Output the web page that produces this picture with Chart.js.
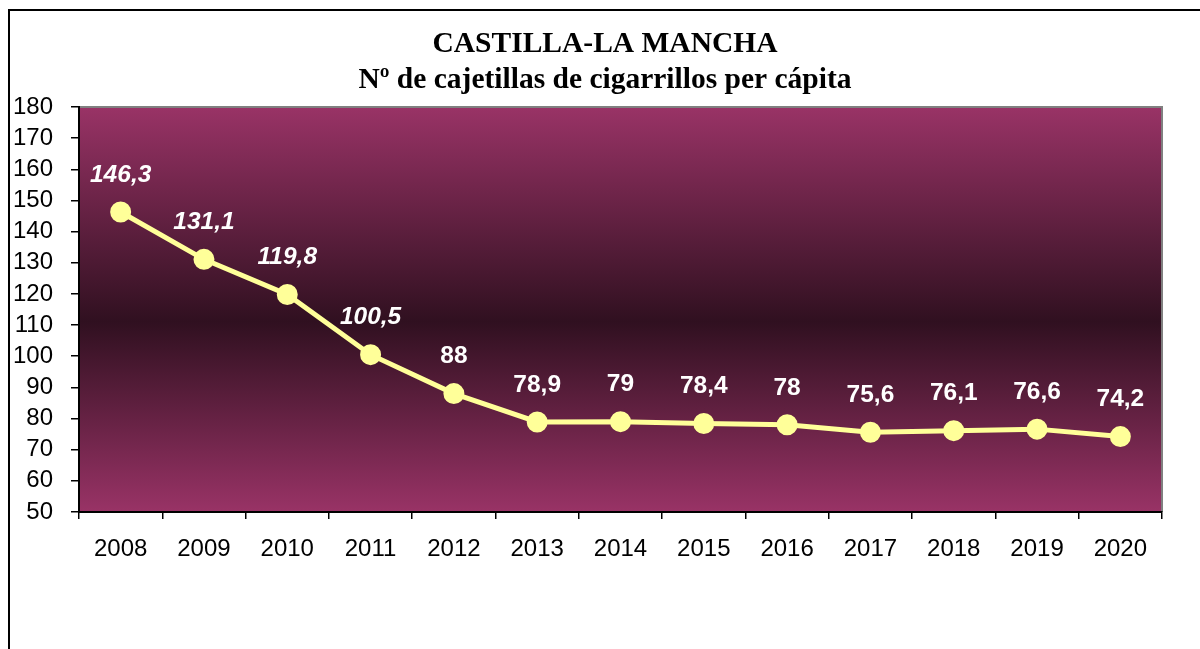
<!DOCTYPE html>
<html>
<head>
<meta charset="utf-8">
<script src="https://cdn.jsdelivr.net/npm/chart.js@4/dist/chart.umd.min.js"></script>
<style>
  html, body { margin: 0; padding: 0; background: #fff; }
  #wrap { width: 1200px; height: 649px; }
</style>
</head>
<body>
<div id="wrap"><canvas id="chart" width="1200" height="649"></canvas></div>
<script>
// Datos: cajetillas de cigarrillos per cápita, Castilla-La Mancha
const YEARS = ['2008', '2009', '2010', '2011', '2012', '2013', '2014', '2015', '2016', '2017', '2018', '2019', '2020'];
const CAJETILLAS = [146.3, 131.1, 119.8, 100.5, 88, 78.9, 79, 78.4, 78, 75.6, 76.1, 76.6, 74.2];
const Y_TICKS = [50, 60, 70, 80, 90, 100, 110, 120, 130, 140, 150, 160, 170, 180];
const TITLE_LINES = ['CASTILLA-LA MANCHA', 'Nº de cajetillas de cigarrillos per cápita'];

// Marco exterior, fondo degradado del área y título
const backdrop = {
    id: 'backdrop',
    beforeDraw(chart) {
        const { ctx, chartArea: a } = chart;
        ctx.save();
        ctx.strokeStyle = '#000';
        ctx.lineWidth = 2;
        ctx.strokeRect(9, 10, 1210, 700);

        const grad = ctx.createLinearGradient(0, a.top, 0, a.bottom);
        grad.addColorStop(0, '#993366');
        grad.addColorStop(0.53, '#301020');
        grad.addColorStop(1, '#993366');
        ctx.fillStyle = grad;
        ctx.fillRect(a.left, a.top, a.right - a.left, a.bottom - a.top);

        ctx.strokeStyle = '#808080';
        ctx.lineWidth = 2;
        ctx.beginPath();
        ctx.moveTo(a.left, a.top);
        ctx.lineTo(a.right, a.top);
        ctx.lineTo(a.right, a.bottom);
        ctx.stroke();

        ctx.fillStyle = '#000';
        ctx.font = 'bold 29.5px "Liberation Serif", "Times New Roman", serif';
        ctx.textAlign = 'center';
        ctx.textBaseline = 'middle';
        TITLE_LINES.forEach((t, i) => ctx.fillText(t, 605, 44 + i * 36));
        ctx.restore();
    }
};

// Etiquetas de valor encima de cada punto (las cuatro primeras en cursiva)
const valueLabels = {
    id: 'valueLabels',
    afterDatasetsDraw(chart) {
        const { ctx } = chart;
        const meta = chart.getDatasetMeta(0);
        ctx.save();
        ctx.fillStyle = '#fff';
        ctx.textAlign = 'center';
        ctx.textBaseline = 'middle';
        meta.data.forEach((pt, i) => {
            ctx.font = (i < 4 ? 'italic ' : '') + 'bold 24.5px "Liberation Sans", Arial, sans-serif';
            ctx.fillText(String(CAJETILLAS[i]).replace('.', ','), pt.x, pt.y - 37);
        });
        ctx.restore();
    }
};

new Chart(document.getElementById('chart'), {
    type: 'line',
    data: {
        labels: YEARS,
        datasets: [{
            data: CAJETILLAS,
            borderColor: '#FFFF99',
            borderWidth: 5,
            backgroundColor: '#FFFF99',
            pointBackgroundColor: '#FFFF99',
            pointBorderColor: '#FFFF99',
            pointRadius: 8,
            tension: 0
        }]
    },
    options: {
        responsive: false,
        animation: false,
        devicePixelRatio: 1,
        layout: { padding: { left: 0, right: 38, top: 107, bottom: 87 } },
        plugins: {
            legend: { display: false },
            title: { display: false },
            tooltip: { enabled: false }
        },
        scales: {
            x: {
                offset: true,
                grid: { offset: true, drawOnChartArea: false, drawTicks: true, tickLength: 7, color: '#000', lineWidth: 1.5 },
                border: { color: '#000', width: 2 },
                ticks: { color: '#000', padding: 16, autoSkip: false, font: { family: 'Liberation Sans', size: 24 }, maxRotation: 0 },
                afterFit(scale) { scale.height = 50; }
            },
            y: {
                min: 50,
                max: 180,
                afterBuildTicks(scale) { scale.ticks = Y_TICKS.map(v => ({ value: v })); },
                grid: { drawOnChartArea: false, drawTicks: true, tickLength: 8, color: '#000', lineWidth: 1.5 },
                border: { color: '#000', width: 2 },
                ticks: { color: '#000', padding: 18, autoSkip: false, font: { family: 'Liberation Sans', size: 24 } },
                afterFit(scale) { scale.width = 79; }
            }
        }
    },
    plugins: [backdrop, valueLabels]
});
</script>
</body>
</html>
